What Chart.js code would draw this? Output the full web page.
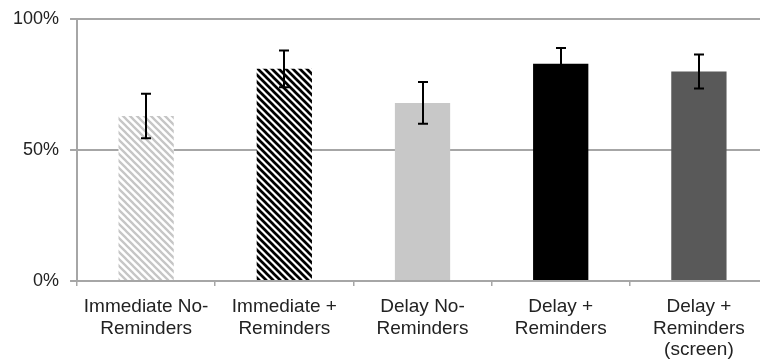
<!DOCTYPE html>
<html lang="en">
<head>
  <meta charset="UTF-8" />
  <title>Reminders</title>
  <script src="https://cdn.jsdelivr.net/npm/chart.js"></script>
  <style>
    html, body { margin: 0; padding: 0; background: #fff; overflow: hidden; }
    canvas { display: block; }
  </style>
</head>
<body>
  <canvas id="chart" width="772" height="364"></canvas>

  <script>
    // data
    const labels = [
      ['Immediate No-', 'Reminders'],
      ['Immediate +', 'Reminders'],
      ['Delay No-', 'Reminders'],
      ['Delay +', 'Reminders'],
      ['Delay +', 'Reminders', '(screen)']
    ];
    const values = [63, 81, 68, 83, 80];
    const errors = [8.5, 7, 8, 6, 6.5];
    const yTicks = [0, 50, 100];

    // diagonal stripes, top-left to bottom-right
    function stripes(fg, width) {
      const s = 7;
      const c = document.createElement('canvas');
      c.width = s; c.height = s;
      const g = c.getContext('2d');
      g.fillStyle = '#fff';
      g.fillRect(0, 0, s, s);
      g.strokeStyle = fg;
      g.lineWidth = width;
      g.beginPath();
      for (let k = -1; k <= 1; k++) {
        g.moveTo(k * s - 1, -1);
        g.lineTo(k * s + s + 1, s + 1);
      }
      g.stroke();
      return g.createPattern(c, 'repeat');
    }

    const ctx = document.getElementById('chart').getContext('2d');
    const fills = [
      stripes('#c6c6c6', 2.3),
      stripes('#000', 2.7),
      '#c8c8c8',
      '#000',
      '#595959'
    ];

    const errorBars = {
      id: 'errorBars',
      afterDatasetsDraw(chart) {
        const meta = chart.getDatasetMeta(0);
        const y = chart.scales.y;
        const c = chart.ctx;
        c.save();
        c.strokeStyle = '#000';
        c.lineWidth = 2;
        meta.data.forEach((bar, i) => {
          const top = y.getPixelForValue(values[i] + errors[i]);
          const bot = y.getPixelForValue(values[i] - errors[i]);
          const x = Math.round(bar.x);
          c.beginPath();
          c.moveTo(x, top); c.lineTo(x, bot);
          c.moveTo(x - 5, top); c.lineTo(x + 5, top);
          c.moveTo(x - 5, bot); c.lineTo(x + 5, bot);
          c.stroke();
        });
        c.restore();
      }
    };

    new Chart(ctx, {
      type: 'bar',
      data: {
        labels: labels,
        datasets: [{
          data: values,
          backgroundColor: fills,
          borderWidth: 0,
          barPercentage: 0.8,
          categoryPercentage: 0.5
        }]
      },
      options: {
        responsive: false,
        animation: false,
        layout: { padding: { left: 2, right: 4, top: 0, bottom: -7 } },
        plugins: {
          legend: { display: false },
          tooltip: { enabled: false }
        },
        scales: {
          x: {
            grid: { display: true, drawOnChartArea: false, drawTicks: true, tickLength: 5, color: '#a6a6a6', lineWidth: 1.5 },
            border: { color: '#a6a6a6', width: 2 },
            ticks: {
              color: '#222',
              font: { family: '"Liberation Sans", Arial, sans-serif', size: 19, lineHeight: 1.14 },
              maxRotation: 0,
              autoSkip: false,
              padding: 10
            }
          },
          y: {
            min: 0,
            max: 100,
            afterBuildTicks(axis) { axis.ticks = yTicks.map(v => ({ value: v })); },
            grid: { color: '#a6a6a6', lineWidth: 2, tickLength: 7 },
            border: { color: '#a6a6a6', width: 2 },
            ticks: {
              color: '#222',
              font: { family: '"Liberation Sans", Arial, sans-serif', size: 18, lineHeight: 0.9 },
              padding: 11,
              callback: v => v + '%'
            }
          }
        }
      },
      plugins: [errorBars]
    });
  </script>
</body>
</html>
